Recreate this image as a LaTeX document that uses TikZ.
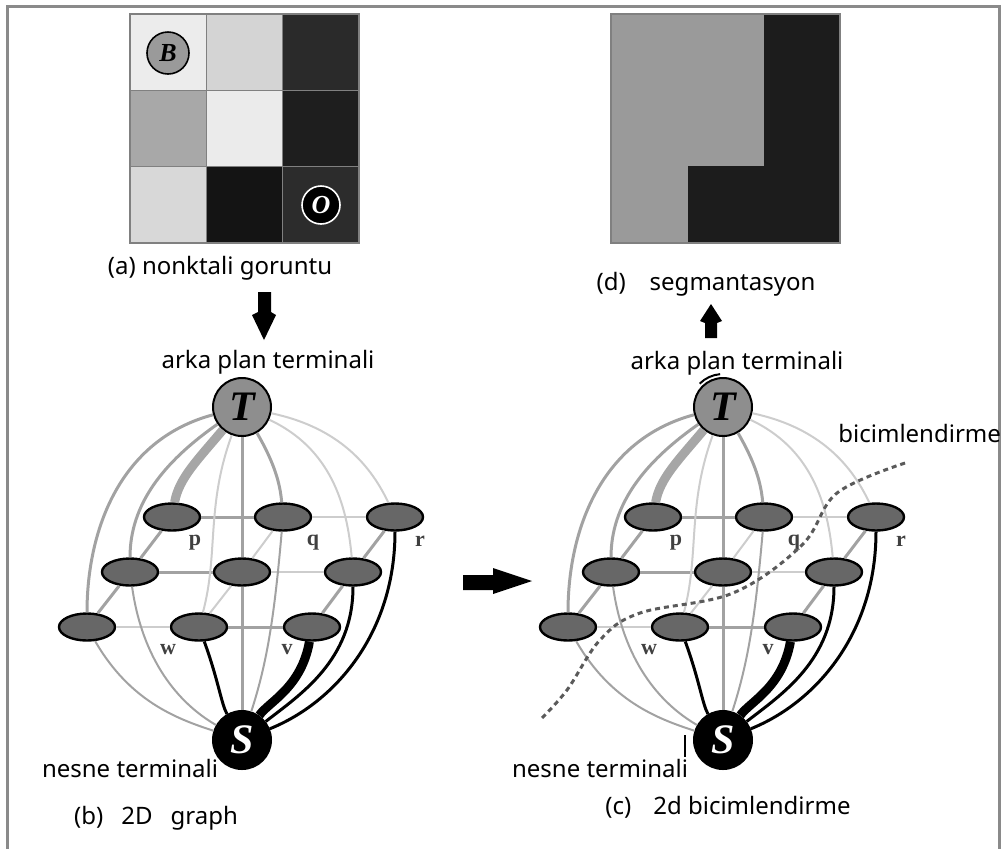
\documentclass[tikz,border=0pt]{standalone}
\usepackage{fontspec}
\setmainfont{Noto Sans}
\newfontfamily\letterfont{Liberation Serif}
\usetikzlibrary{shapes.geometric}

\definecolor{linkgray}{HTML}{A2A2A2}
\definecolor{weakgray}{HTML}{CDCDCD}
\definecolor{heavygray}{HTML}{A6A6A6}
\definecolor{nodegray}{HTML}{676767}
\definecolor{termgray}{HTML}{8E8E8E}
\definecolor{cutgray}{HTML}{5A5A5A}
\definecolor{framegray}{HTML}{8A8A8A}
\definecolor{seggray}{HTML}{9A9A9A}
\definecolor{segblack}{HTML}{1C1C1C}

\tikzset{
  vox/.style={ellipse, draw=black, line width=1.2pt, fill=nodegray,
    minimum width=28pt, minimum height=13.5pt, inner sep=0pt},
  term/.style={circle, draw=black, line width=1pt, minimum size=29pt, inner sep=0pt,
    font=\letterfont\bfseries\itshape\fontsize{21}{21}\selectfont},
  seed/.style={circle, line width=0.8pt, minimum size=21pt, inner sep=0pt,
    font=\letterfont\bfseries\itshape\fontsize{13}{13}\selectfont},
  nlink/.style={linkgray, line width=1.5pt},
  wlink/.style={weakgray, line width=1pt},
  glink/.style={heavygray, line width=4.5pt},
  slink/.style={black, line width=1.5pt},
  hlink/.style={black, line width=4.5pt},
  vlabel/.style={font=\letterfont\bfseries\fontsize{11}{11}\selectfont, text=black!75, inner sep=0pt},
  captext/.style={font=\fontsize{12}{14}\selectfont, inner sep=0pt},
  cutline/.style={cutgray, line width=1.5pt, dash pattern=on 2.5pt off 2pt},
}

\begin{document}
\begin{tikzpicture}[x=0.5pt,y=0.5pt]
\useasboundingbox (0,0) rectangle (1001,-848);
\clip (0,0) rectangle (1001,-848);
\draw[framegray, line width=1.5pt] (7,-860) -- (7,-6) -- (999,-6) -- (999,-860);

% pixel image
\foreach \shade [count=\k from 0] in {ECECEC,D4D4D4,2A2A2A,A8A8A8,EBEBEB,1E1E1E,D8D8D8,141414,2C2C2C}{
  \pgfmathtruncatemacro\col{mod(\k,3)}
  \pgfmathtruncatemacro\row{div(\k,3)}
  \definecolor{cell}{HTML}{\shade}
  \filldraw[fill=cell, draw=black!50, line width=0.6pt]
    (130+\col*76.33,-14-\row*76.33) rectangle ++(76.33,-76.33);
}
\node[seed, draw=black, fill=seggray] (B) at (168,-53) {B};
\node[seed, draw=white, fill=black, text=white, minimum size=19pt] (O) at (321,-205) {O};
\node[captext] (capa) at (220,-268) {(a) nonktali goruntu};

% segmentation
\fill[seggray] (611,-14) rectangle (840,-243);
\fill[segblack] (764,-14) rectangle (840,-243);
\fill[segblack] (688,-166) rectangle (764,-243);
\draw[black!50, line width=0.6pt] (611,-14) rectangle (840,-243);
\node[captext] (capd) at (706,-284) {(d)\hspace{12pt}segmantasyon};

% block arrows
\fill (258,-292) -- (271,-292) -- (271,-312) -- (276,-315) -- (264,-340) -- (252,-315) -- (258,-312) -- cycle;
\fill (705,-338) -- (717,-338) -- (717,-323) -- (722,-321) -- (711,-304) -- (700,-321) -- (705,-323) -- cycle;
\fill (463,-575) -- (493,-575) -- (493,-568) -- (532,-581) -- (493,-594) -- (493,-590) -- (463,-590) -- cycle;

\foreach \g/\dx in {b/0, c/481}{
\begin{scope}[shift={(\dx,0)}, name prefix=\g-]
  \node[term, fill=termgray] (T) at (242,-407) {T};
  \node[term, fill=black, text=white] (S) at (242,-740) {S};
  \node[vox] (n11) at (172,-517) {};
  \node[vox] (n12) at (283,-517) {};
  \node[vox] (n13) at (395,-517) {};
  \node[vox] (n21) at (130,-572) {};
  \node[vox] (n22) at (242,-572) {};
  \node[vox] (n23) at (353,-572) {};
  \node[vox] (n31) at (87,-627) {};
  \node[vox] (n32) at (199,-627) {};
  \node[vox] (n33) at (312,-627) {};
  \node[vlabel] (lp) at ([shift={(23,-26)}]n11) {p};
  \node[vlabel] (lq) at ([shift={(30,-26)}]n12) {q};
  \node[vlabel] (lr) at ([shift={(25,-24)}]n13) {r};
  \node[vlabel] (lw) at ([shift={(-31,-23)}]n32) {w};
  \node[vlabel] (lv) at ([shift={(-25,-23)}]n33) {v};

  \draw[nlink] (n11) -- (n12);
  \draw[wlink] (n12) -- (n13);
  \draw[nlink] (n21) -- (n22);
  \draw[wlink] (n22) -- (n23);
  \draw[wlink] (n31) -- (n32);
  \draw[nlink] (n32) -- (n33);
  \draw[nlink] (n31) -- (n21);
  \draw[nlink] (n21) -- (n11);
  \draw[wlink] (n32) -- (n22);
  \draw[wlink] (n22) -- (n12);
  \draw[nlink] (n33) -- (n23);
  \draw[nlink] (n23) -- (n13);

  \draw[nlink] (T) to[out=195, in=90] (n31);
  \draw[nlink] (T) to[out=215, in=90] (n21);
  \draw[glink] (T) to[out=230, in=80] (n11);
  \draw[wlink] (T) to[out=250, in=75] (n32);
  \draw[nlink] (T) -- (n22);
  \draw[nlink] (T) to[out=-60, in=95] (n12);
  \draw[wlink] (T) to[out=-25, in=95] (n23);
  \draw[wlink] (T) to[out=-12, in=115] (n13);

  \draw[nlink, line width=1pt] (n31) to[out=-60, in=162] (S);
  \draw[nlink, line width=1pt] (n21) to[out=-82, in=150] (S);
  \draw[slink] (n32) to[out=-70, in=120] (S);
  \draw[nlink] (n22) -- (S);
  \draw[nlink, line width=1pt] (n12) to[out=-95, in=72] (S);
  \draw[hlink] (n33) to[out=-100, in=55] (S);
  \draw[slink] (n23) to[out=-90, in=38] (S);
  \draw[slink] (n13) to[out=-90, in=22] (S);
\end{scope}}

\node[captext] (tb) at (268,-362) {arka plan terminali};
\node[captext] (tc) at (737,-363) {arka plan terminali};
\node[captext] (sb) at (130,-768) {nesne terminali};
\node[captext] (sc) at (600,-768) {nesne terminali};
\node[captext] (capb) at (156,-818) {(b)\hspace{9pt}2D\hspace{9pt}graph};
\node[captext] (capc) at (728,-807) {(c)\hspace{11pt}2d bicimlendirme};
\node[captext, anchor=west] (cutname) at (838,-433) {bicimlendirme};

\draw[cutline] plot[smooth, tension=0.6] coordinates {(905,-463) (837,-493) (802,-545) (733,-593) (640,-613) (600,-640) (567,-690) (540,-720)};
\draw[line width=1pt] (c-T) ++(135:33) arc[start angle=135, end angle=95, radius=33];
\draw[line width=1pt] (685,-735) -- (685,-757);
\end{tikzpicture}
\end{document}
